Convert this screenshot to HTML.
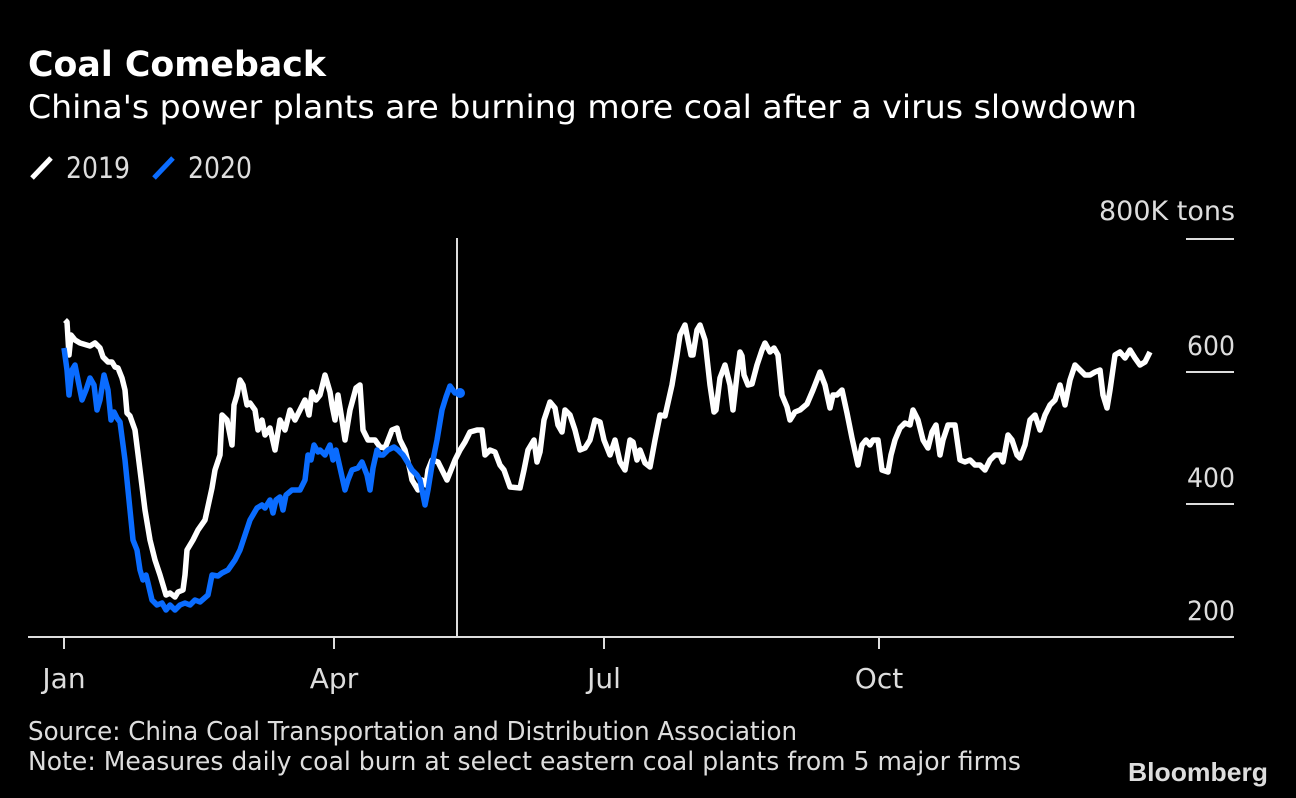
<!DOCTYPE html>
<html><head><style>html,body{margin:0;padding:0;background:#000;}svg{display:block}</style></head>
<body>
<svg width="1296" height="798" viewBox="0 0 1296 798" xmlns="http://www.w3.org/2000/svg" font-family="DejaVu Sans, Liberation Sans, sans-serif">
<rect width="1296" height="798" fill="#000"/>
<text x="28" y="76" font-size="35" font-weight="bold" fill="#fff" textLength="298" lengthAdjust="spacingAndGlyphs">Coal Comeback</text>
<text x="28" y="118" font-size="32" fill="#fff" textLength="1109" lengthAdjust="spacingAndGlyphs">China's power plants are burning more coal after a virus slowdown</text>
<line x1="32" y1="178" x2="51" y2="158" stroke="#fff" stroke-width="5"/>
<text x="66" y="178" font-size="29" fill="#ddd" textLength="64" lengthAdjust="spacingAndGlyphs">2019</text>
<line x1="154" y1="178" x2="173" y2="158" stroke="#0a6cff" stroke-width="5"/>
<text x="188" y="178" font-size="29" fill="#ddd" textLength="64" lengthAdjust="spacingAndGlyphs">2020</text>
<text x="1235" y="220" font-size="27" fill="#ddd" text-anchor="end" textLength="136" lengthAdjust="spacingAndGlyphs">800K tons</text>
<text x="1235" y="355" font-size="27" fill="#ddd" text-anchor="end" textLength="48" lengthAdjust="spacingAndGlyphs">600</text>
<text x="1235" y="487" font-size="27" fill="#ddd" text-anchor="end" textLength="48" lengthAdjust="spacingAndGlyphs">400</text>
<text x="1235" y="620" font-size="27" fill="#ddd" text-anchor="end" textLength="48" lengthAdjust="spacingAndGlyphs">200</text>
<g stroke="#ddd" stroke-width="2">
<line x1="1186" y1="239" x2="1234" y2="239"/>
<line x1="1186" y1="372" x2="1234" y2="372"/>
<line x1="1186" y1="504" x2="1234" y2="504"/>
<line x1="28" y1="637" x2="1234" y2="637"/>
<line x1="64" y1="637" x2="64" y2="649"/>
<line x1="334" y1="637" x2="334" y2="649"/>
<line x1="604" y1="637" x2="604" y2="649"/>
<line x1="879" y1="637" x2="879" y2="649"/>
<line x1="457" y1="238" x2="457" y2="637"/>
</g>
<text x="64" y="688" font-size="28" fill="#ddd" text-anchor="middle">Jan</text>
<text x="334" y="688" font-size="28" fill="#ddd" text-anchor="middle">Apr</text>
<text x="604" y="688" font-size="28" fill="#ddd" text-anchor="middle">Jul</text>
<text x="879" y="688" font-size="28" fill="#ddd" text-anchor="middle">Oct</text>
<text x="28" y="740" font-size="26" fill="#ddd" textLength="769" lengthAdjust="spacingAndGlyphs">Source: China Coal Transportation and Distribution Association</text>
<text x="28" y="770" font-size="26" fill="#ddd" textLength="993" lengthAdjust="spacingAndGlyphs">Note: Measures daily coal burn at select eastern coal plants from 5 major firms</text>
<text x="1268" y="781" font-size="26" font-weight="bold" fill="#ddd" text-anchor="end" font-family="Liberation Sans, sans-serif" textLength="140" lengthAdjust="spacingAndGlyphs">Bloomberg</text>
<polyline fill="none" stroke="#fff" stroke-width="5.5" stroke-linejoin="round" points="65,320 67,322 69,355 71,335 75,340 80,343 90,346 95,343 100,348 103,357 108,362 112,362 115,367 118,368 122,378 125,390 127,413 130,416 135,430 140,470 145,510 150,540 155,560 160,575 163,585 166,595 170,593 175,597 178,592 183,590 185,575 187,550 193,540 198,530 205,520 212,488 215,470 220,455 222,415 227,420 232,445 234,405 237,395 240,380 243,385 247,405 250,403 255,410 258,430 262,420 265,435 270,428 275,450 280,420 285,430 290,410 295,420 300,410 305,400 309,415 312,392 316,400 320,395 325,375 330,392 332,405 335,420 338,395 342,420 345,440 350,410 356,388 360,385 363,430 368,440 375,440 380,447 385,448 392,430 397,428 400,440 405,450 410,470 412,480 418,490 422,480 426,485 428,470 432,460 438,462 443,472 447,480 455,460 460,450 465,442 470,432 477,430 482,430 485,455 490,450 495,452 500,465 504,470 510,487 520,488 524,470 528,450 534,440 537,462 540,452 544,420 550,402 555,408 558,425 562,432 565,410 570,415 575,430 580,450 585,448 590,440 595,420 600,422 604,440 610,455 615,440 620,462 625,470 630,440 633,442 637,460 640,450 645,463 650,467 655,440 660,415 665,416 672,385 677,355 680,335 685,325 688,340 691,355 693,355 697,330 700,325 705,340 710,385 714,412 716,410 720,378 725,365 730,385 733,410 737,375 740,352 742,356 744,375 748,385 752,384 757,365 762,350 765,343 770,352 774,348 778,355 782,395 787,407 790,420 795,412 800,410 807,404 813,390 820,372 825,385 830,408 833,395 837,395 842,390 847,413 852,438 858,465 862,445 866,440 870,445 873,440 878,440 882,470 888,472 891,455 895,440 900,428 905,423 910,425 913,410 918,420 923,440 928,448 932,432 936,425 940,455 943,440 948,425 955,425 960,460 965,462 970,460 975,465 980,465 985,470 990,460 995,455 1000,455 1003,462 1008,435 1012,440 1017,455 1020,458 1025,445 1030,420 1035,415 1040,430 1045,415 1050,405 1055,400 1060,385 1065,405 1070,380 1075,365 1080,370 1085,375 1090,375 1095,372 1100,370 1103,395 1107,408 1110,390 1115,355 1120,352 1125,358 1130,350 1135,358 1140,365 1145,362 1150,352"/>
<polyline fill="none" stroke="#0a6cff" stroke-width="5.5" stroke-linejoin="round" points="64,348 67,370 69,395 72,370 75,365 78,380 82,400 86,390 90,378 94,385 97,410 100,400 104,375 108,390 111,420 114,412 117,418 120,422 125,460 130,510 133,540 137,550 140,570 143,580 146,575 148,583 152,600 157,605 162,603 166,610 170,605 175,610 180,605 185,603 190,605 195,600 200,602 208,595 212,575 218,576 222,573 228,570 235,560 240,550 245,535 250,520 257,508 262,505 265,508 270,500 273,513 276,500 280,497 283,510 286,495 292,490 300,490 305,480 308,455 311,460 314,445 318,452 320,450 325,455 330,445 333,460 336,450 345,490 348,480 352,470 358,468 362,462 367,475 370,490 373,468 377,450 380,455 383,455 388,450 394,447 398,450 403,455 408,463 412,470 417,475 420,480 425,505 428,490 432,465 437,440 442,410 446,397 450,386 455,393 460,392"/>
<circle cx="460" cy="393" r="5" fill="#0a6cff"/>
</svg>
</body></html>
